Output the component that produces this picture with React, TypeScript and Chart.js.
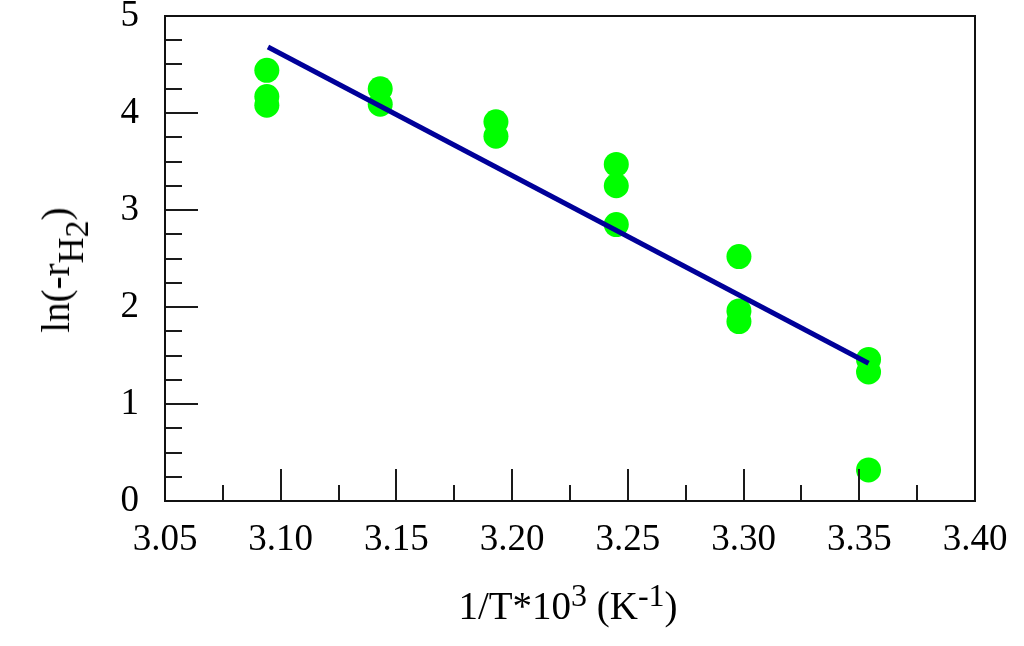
import { useEffect, useRef } from "react"
import { Chart, type ChartConfiguration, registerables } from "chart.js"

Chart.register(...registerables)

// measured points, 1/T*10^3 vs ln(-rH2)
const pointX = [3.094, 3.094, 3.094, 3.143, 3.143, 3.193, 3.193, 3.245, 3.245, 3.245, 3.298, 3.298, 3.298, 3.354, 3.354, 3.354]
const pointY = [4.44, 4.17, 4.08, 4.25, 4.09, 3.91, 3.76, 3.47, 3.25, 2.85, 2.52, 1.96, 1.85, 1.46, 1.33, 0.32]

// fitted line ends
const fitX = [3.0945, 3.354]
const fitY = [4.68, 1.42]

const xMin = 3.05
const xMax = 3.4
const yMin = 0
const yMax = 5

const serif = "'Liberation Serif', 'Times New Roman', serif"

// inward ticks + full frame
const frameTicks = {
  id: "frameTicks",
  afterDraw(chart: Chart) {
    const { ctx, chartArea: a } = chart
    const xs = chart.scales.x
    const ys = chart.scales.y
    ctx.save()
    ctx.strokeStyle = "#1a1a1a"
    ctx.lineWidth = 2
    ctx.beginPath()
    for (let i = 0; i <= 14; i++) {
      const v = xMin + i * 0.025
      const px = Math.round(xs.getPixelForValue(v))
      const len = i % 2 === 0 ? 32 : 16
      ctx.moveTo(px, a.bottom)
      ctx.lineTo(px, a.bottom - len)
    }
    for (let i = 0; i <= 20; i++) {
      const v = yMin + i * 0.25
      const py = Math.round(ys.getPixelForValue(v))
      const len = i % 4 === 0 ? 33 : 17
      ctx.moveTo(a.left, py)
      ctx.lineTo(a.left + len, py)
    }
    ctx.stroke()
    ctx.strokeStyle = "#111"
    ctx.strokeRect(a.left, a.top, a.right - a.left, a.bottom - a.top)
    ctx.restore()
  },
}

function ArrheniusChart() {
  const chartRef = useRef<HTMLCanvasElement>(null)
  const chartInstance = useRef<Chart | null>(null)

  useEffect(() => {
    if (!chartRef.current) return
    if (chartInstance.current) chartInstance.current.destroy()
    const ctx = chartRef.current.getContext("2d")
    if (!ctx) return

    const config: ChartConfiguration = {
      type: "scatter",
      data: {
        datasets: [
          {
            type: "line",
            label: "fit",
            data: fitX.map((x, i) => ({ x, y: fitY[i] })),
            borderColor: "#000099",
            borderWidth: 5,
            pointRadius: 0,
            fill: false,
            order: 0,
          },
          {
            label: "data",
            data: pointX.map((x, i) => ({ x, y: pointY[i] })),
            backgroundColor: "#00ff00",
            borderWidth: 0,
            pointRadius: 12.5,
            pointHoverRadius: 12.5,
            order: 1,
          },
        ],
      },
      options: {
        responsive: false,
        animation: false,
        layout: { padding: { top: 16, right: 49, left: 0, bottom: 0 } },
        plugins: {
          legend: { display: false },
          tooltip: { enabled: false },
        },
        scales: {
          x: {
            type: "linear",
            min: xMin,
            max: xMax,
            grid: { display: false, drawTicks: false },
            border: { display: false },
            ticks: {
              stepSize: 0.05,
              padding: 17,
              color: "#000",
              font: { family: serif, size: 37 },
              callback: (v) => Number(v).toFixed(2),
            },
            afterFit: (s: any) => {
              s.height = 145
              s.paddingLeft = 0
              s.paddingRight = 0
            },
          },
          y: {
            min: yMin,
            max: yMax,
            grid: { display: false, drawTicks: false },
            border: { display: false },
            ticks: {
              stepSize: 1,
              padding: 26,
              color: "#000",
              font: { family: serif, size: 37 },
            },
            afterFit: (s: any) => {
              s.width = 165
              s.paddingTop = 0
              s.paddingBottom = 0
            },
          },
        },
      },
      plugins: [frameTicks],
    }

    chartInstance.current = new Chart(ctx, config)
    return () => {
      if (chartInstance.current) {
        chartInstance.current.destroy()
        chartInstance.current = null
      }
    }
  }, [])

  const supStyle = { fontSize: 32, verticalAlign: "13px", lineHeight: 0 }

  return (
    <div style={{ position: "fixed", left: 0, top: 0, width: 1024, height: 646, background: "#fff" }}>
      <canvas ref={chartRef} width={1024} height={646} />
      <div
        style={{
          position: "absolute",
          left: 368,
          width: 400,
          top: 584,
          textAlign: "center",
          fontFamily: serif,
          fontSize: 39,
          lineHeight: "44px",
          color: "#000",
          whiteSpace: "nowrap",
        }}
      >
        1/T*10<sup style={supStyle}>3</sup> (K<sup style={supStyle}>-1</sup>)
      </div>
      <div
        style={{
          position: "absolute",
          left: 56,
          top: 270,
          transform: "translate(-50%, -50%) rotate(-90deg)",
          fontFamily: serif,
          fontSize: 39,
          lineHeight: "44px",
          color: "#000",
          whiteSpace: "nowrap",
        }}
      >
        ln(-r
        <sub style={{ fontSize: 36, verticalAlign: "-14px", lineHeight: 0 }}>
          H<sub style={{ fontSize: 34, verticalAlign: "-5px", lineHeight: 0 }}>2</sub>
        </sub>
        )
      </div>
    </div>
  )
}

export default function App() {
  return <ArrheniusChart />
}
